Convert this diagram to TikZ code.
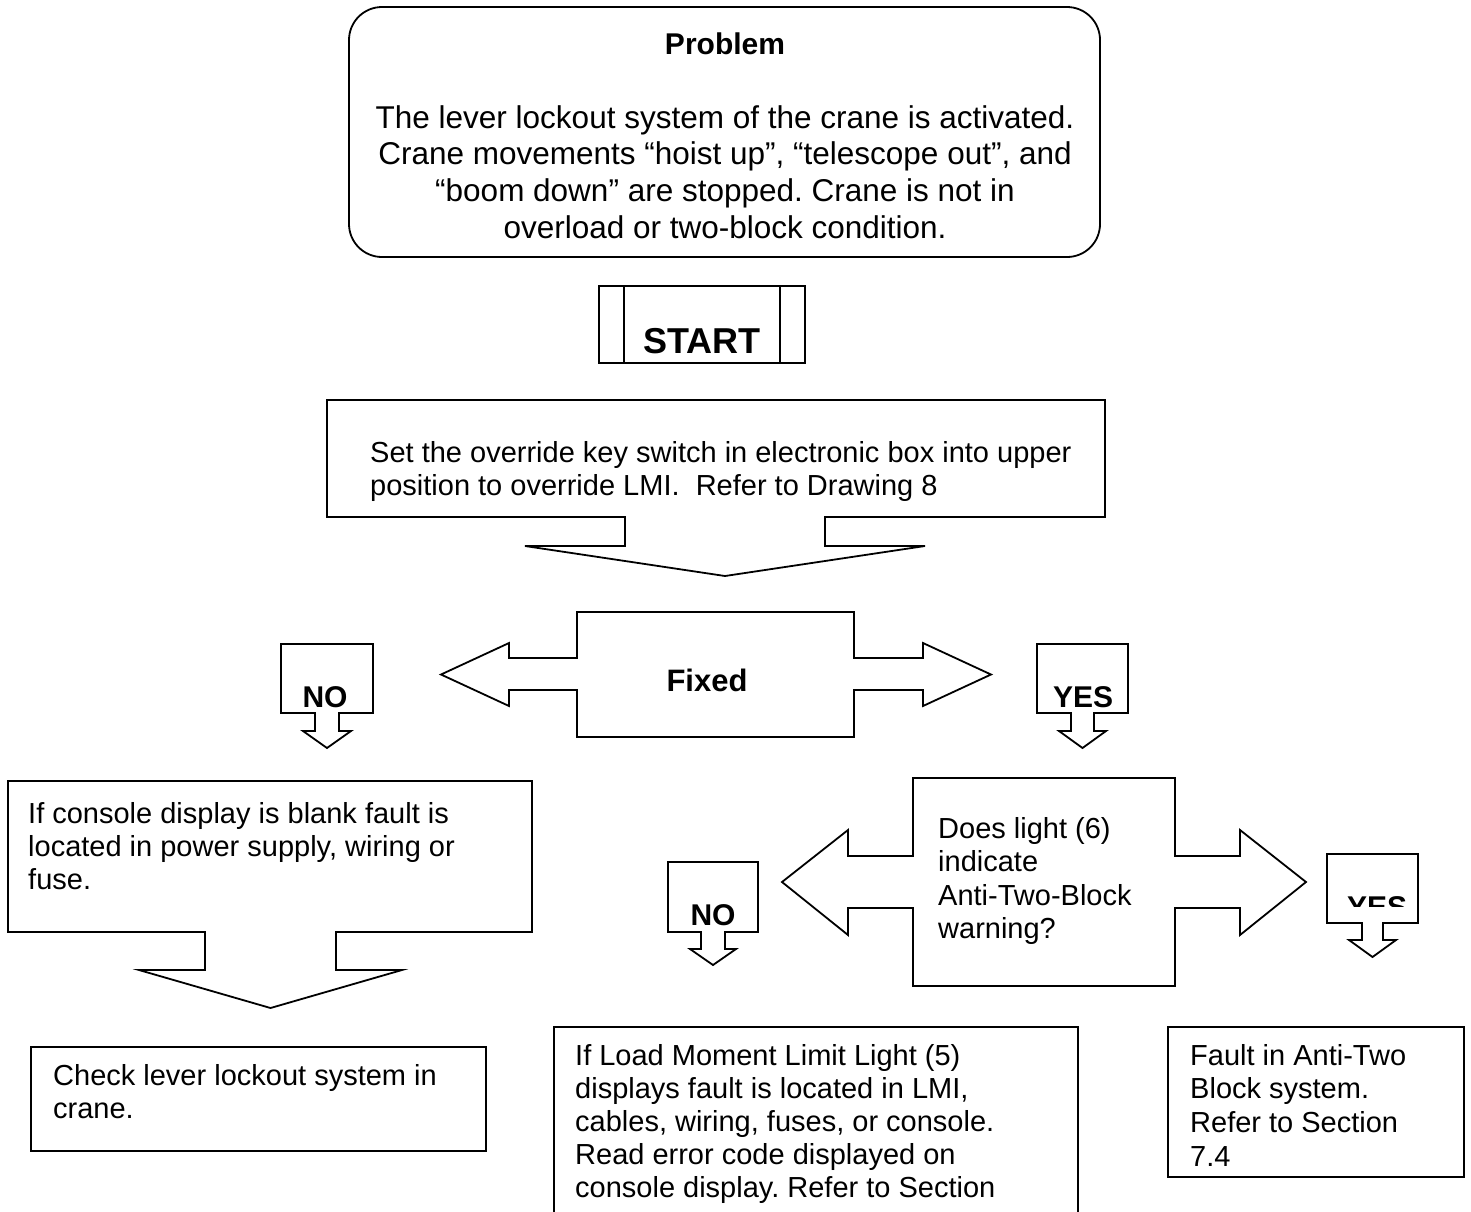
\documentclass[tikz,border=0pt]{standalone}
\usepackage{fontspec}
\setmainfont{Liberation Sans}
\begin{document}
\frenchspacing
\begin{tikzpicture}[x=1pt,y=-1pt,
  shp/.style={draw=black, line width=1.8pt, line join=miter, fill=white},
  t/.style={inner sep=0pt, anchor=base west, font=\fontsize{29}{33}\selectfont},
  tc/.style={inner sep=0pt, anchor=base, font=\fontsize{31.5}{37}\selectfont},
  tb/.style={inner sep=0pt, anchor=base, font=\fontsize{30}{34}\selectfont\bfseries}]
\useasboundingbox (0,0) rectangle (1471,1211);

% Problem box
\draw[shp, rounded corners=33pt] (349,7) rectangle (1100,257);
\node[tb] (ptitle) at (725,54) {Problem};
\node[tc] (p1) at (725,128) {The lever lockout system of the crane is activated.};
\node[tc] (p2) at (725,164.5) {Crane movements “hoist up”, “telescope out”, and};
\node[tc] (p3) at (725,201) {“boom down” are stopped. Crane is not in};
\node[tc] (p4) at (725,238) {overload or two-block condition.};

% START
\draw[shp] (599,286) rectangle (805,363);
\draw[shp] (624,286) -- (624,363) (780,286) -- (780,363);
\node[tb, font=\fontsize{36}{40}\selectfont\bfseries] (start) at (702,353) {START};

% Override callout
\draw[shp] (327,400) -- (1105,400) -- (1105,517) -- (825,517) -- (825,546) -- (925,546)
  -- (725,576) -- (525,546) -- (625,546) -- (625,517) -- (327,517) -- cycle;
\node[t] (ov1) at (370,462) {Set the override key switch in electronic box into upper};
\node[t] (ov2) at (370,495) {position to override LMI.\ \ Refer to Drawing 8};

% Fixed double arrow
\draw[shp] (577,612) -- (854,612) -- (854,658) -- (923,658) -- (923,643) -- (991,674.5)
  -- (923,706) -- (923,690) -- (854,690) -- (854,737) -- (577,737) -- (577,690)
  -- (509,690) -- (509,706) -- (441,674.5) -- (509,643) -- (509,658) -- (577,658) -- cycle;
\node[tb, font=\fontsize{31}{34}\selectfont\bfseries] (fixed) at (707,691) {Fixed};

% NO callout (upper)
\draw[shp] (281,644) -- (373,644) -- (373,713) -- (339,713) -- (339,731) -- (351,731)
  -- (327,748) -- (303,731) -- (315,731) -- (315,713) -- (281,713) -- cycle;
\node[tb] (no1) at (325,707) {NO};

% YES callout (upper)
\draw[shp] (1037,644) -- (1128,644) -- (1128,713) -- (1094,713) -- (1094,731) -- (1106,731)
  -- (1082.5,748) -- (1059,731) -- (1071,731) -- (1071,713) -- (1037,713) -- cycle;
\node[tb] (yes1) at (1083,707) {YES};

% Left callout
\draw[shp] (8,781) -- (532,781) -- (532,932) -- (336,932) -- (336,970) -- (402,970)
  -- (270.5,1008) -- (139,970) -- (205,970) -- (205,932) -- (8,932) -- cycle;
\node[t] (l1) at (28,823) {If console display is blank fault is};
\node[t] (l2) at (28,856) {located in power supply, wiring or};
\node[t] (l3) at (28,889) {fuse.};

% Check box
\draw[shp] (31,1047) rectangle (486,1151);
\node[t] (c1) at (53,1085) {Check lever lockout system in};
\node[t] (c2) at (53,1118) {crane.};

% Question double arrow
\draw[shp] (913,778) -- (1175,778) -- (1175,856) -- (1240,856) -- (1240,830) -- (1306,882)
  -- (1240,935) -- (1240,908) -- (1175,908) -- (1175,986) -- (913,986) -- (913,908)
  -- (848,908) -- (848,935) -- (782,882) -- (848,830) -- (848,856) -- (913,856) -- cycle;
\node[t] (q1) at (938,838) {Does light (6)};
\node[t] (q2) at (938,871.5) {indicate};
\node[t] (q3) at (938,905) {Anti-Two-Block};
\node[t] (q4) at (938,938) {warning?};

% NO callout (lower)
\draw[shp] (668,862) -- (758,862) -- (758,932) -- (725,932) -- (725,949) -- (736,949)
  -- (713,965) -- (690,949) -- (701,949) -- (701,932) -- (668,932) -- cycle;
\node[tb] (no2) at (713,925) {NO};

% YES callout (lower), text clipped
\draw[shp] (1327,854) -- (1418,854) -- (1418,923) -- (1383,923) -- (1383,940) -- (1396,940)
  -- (1372.5,957) -- (1349,940) -- (1362,940) -- (1362,923) -- (1327,923) -- cycle;
\begin{scope}
\clip (1328,855) rectangle (1417,906);
\node[tb] (yes2) at (1377,917) {YES};
\end{scope}

% Bottom middle box
\draw[shp] (554,1250) -- (554,1027) -- (1078,1027) -- (1078,1250);
\node[t] (m1) at (575,1065) {If Load Moment Limit Light (5)};
\node[t] (m2) at (575,1098) {displays fault is located in LMI,};
\node[t] (m3) at (575,1131) {cables, wiring, fuses, or console.};
\node[t] (m4) at (575,1164) {Read error code displayed on};
\node[t] (m5) at (575,1197) {console display. Refer to Section};

% Bottom right box
\draw[shp] (1168,1027) rectangle (1464,1177);
\node[t] (r1) at (1190,1065) {Fault in Anti-Two};
\node[t] (r2) at (1190,1098) {Block system.};
\node[t] (r3) at (1190,1132) {Refer to Section};
\node[t] (r4) at (1190,1166) {7.4};
\end{tikzpicture}
\end{document}
